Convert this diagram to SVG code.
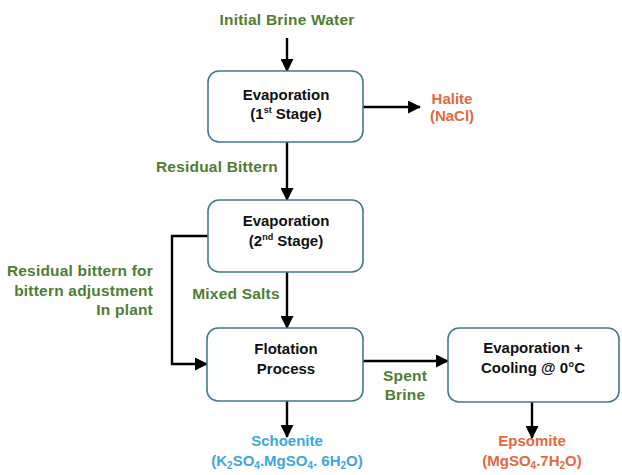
<svg xmlns="http://www.w3.org/2000/svg" width="622" height="475" viewBox="0 0 622 475">
<defs>
<marker id="ah" markerWidth="13" markerHeight="13" refX="12" refY="6.5" orient="auto" markerUnits="userSpaceOnUse">
<path d="M0,0 L13,6.5 L0,13 Z" fill="#000"/>
</marker>
<style>
.box{fill:#fff;stroke:#46788a;stroke-width:1.6}
.bt{font-family:"Liberation Sans",Arial,sans-serif;font-weight:bold;font-size:15px;fill:#111;text-anchor:middle}
.g{font-family:"Liberation Sans",Arial,sans-serif;font-weight:bold;font-size:15.5px;letter-spacing:0.2px;fill:#4e7d33;text-anchor:middle}
.o{font-family:"Liberation Sans",Arial,sans-serif;font-weight:bold;font-size:15px;fill:#e4683e;text-anchor:middle}
.b{font-family:"Liberation Sans",Arial,sans-serif;font-weight:bold;font-size:15px;fill:#3ea6de;text-anchor:middle}
.c{fill:none;stroke:#000;stroke-width:2.4;marker-end:url(#ah)}
.sup{font-size:9px}
</style>
</defs>
<rect width="622" height="475" fill="#fff"/>
<g id="connectors">
<path class="c" d="M287,38 V71"/>
<path class="c" d="M363,107 H420"/>
<path class="c" d="M287,142 V200"/>
<path class="c" d="M287,272 V328"/>
<path class="c" d="M208,236 H172 V364 H207"/>
<path class="c" d="M363,361 H448"/>
<path class="c" d="M287,401 V437"/>
<path class="c" d="M532,402 V438"/>
</g>
<g id="n1">
<rect class="box" x="208" y="71" width="155" height="71" rx="11"/>
<text class="bt" x="286" y="100">Evaporation</text>
<text class="bt" x="286" y="119">(1<tspan class="sup" dy="-6">st</tspan><tspan dy="6"> Stage)</tspan></text>
</g>
<g id="n2">
<rect class="box" x="208" y="200" width="155" height="72" rx="11"/>
<text class="bt" x="286" y="226">Evaporation</text>
<text class="bt" x="286" y="246">(2<tspan class="sup" dy="-6">nd</tspan><tspan dy="6"> Stage)</tspan></text>
</g>
<g id="n3">
<rect class="box" x="207" y="328" width="156" height="73" rx="11"/>
<text class="bt" x="286" y="354">Flotation</text>
<text class="bt" x="286" y="374">Process</text>
</g>
<g id="n4">
<rect class="box" x="448" y="328" width="171" height="74" rx="11"/>
<text class="bt" x="533" y="353">Evaporation +</text>
<text class="bt" x="533" y="373">Cooling @ 0°C</text>
</g>
<g id="labels">
<text class="g" x="287" y="25">Initial Brine Water</text>
<text class="o" x="452" y="104">Halite</text>
<text class="o" x="452" y="121">(NaCl)</text>
<text class="g" x="217" y="172">Residual Bittern</text>
<text class="g" x="236" y="299">Mixed Salts</text>
<text class="g" x="153" y="276" style="text-anchor:end">Residual bittern for</text>
<text class="g" x="153" y="296" style="text-anchor:end">bittern adjustment</text>
<text class="g" x="153" y="315" style="text-anchor:end">In plant</text>
<text class="g" x="405" y="381">Spent</text>
<text class="g" x="405" y="400">Brine</text>
<text class="b" x="287" y="446">Schoenite</text>
<text class="b" x="287" y="466">(K<tspan font-size="10" dy="3">2</tspan><tspan dy="-3">SO</tspan><tspan font-size="10" dy="3">4</tspan><tspan dy="-3">.MgSO</tspan><tspan font-size="10" dy="3">4</tspan><tspan dy="-3">. 6H</tspan><tspan font-size="10" dy="3">2</tspan><tspan dy="-3">O)</tspan></text>
<text class="o" x="532" y="446">Epsomite</text>
<text class="o" x="532" y="466">(MgSO<tspan font-size="10" dy="3">4</tspan><tspan dy="-3">.7H</tspan><tspan font-size="10" dy="3">2</tspan><tspan dy="-3">O)</tspan></text>
</g>
</svg>
